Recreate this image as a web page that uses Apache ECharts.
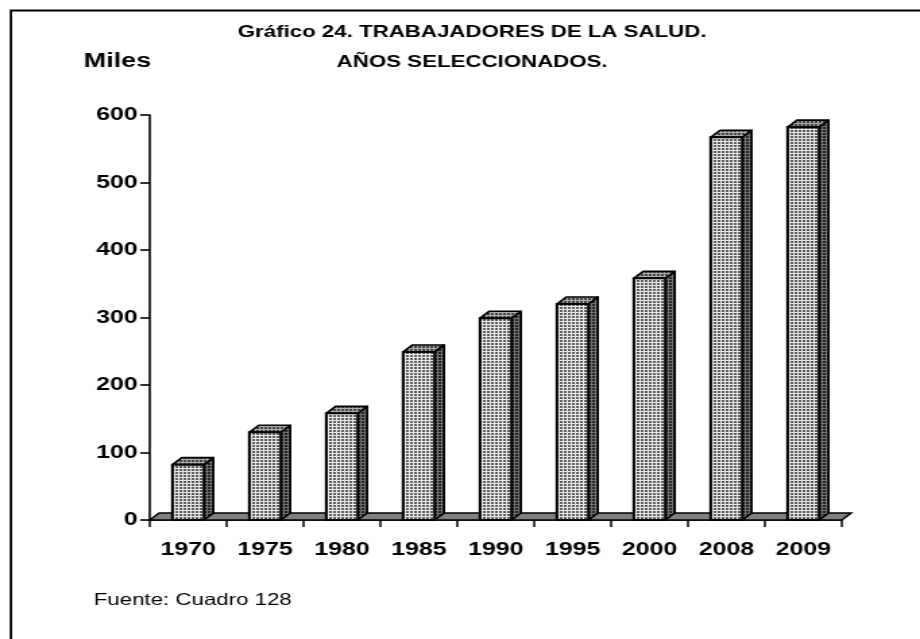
<!DOCTYPE html>
<html><head><meta charset="utf-8">
<script src="https://cdn.jsdelivr.net/npm/echarts@6/dist/echarts.min.js"></script>
<style>
html,body{margin:0;padding:0;background:#fff;overflow:hidden;width:920px;height:639px}
#c{width:682px;height:639px;transform:scaleX(1.349);transform-origin:0 0}
</style>
</head><body><div id="c"></div>
<script>
const categories = ['1970','1975','1980','1985','1990','1995','2000','2008','2009'];
const values = [82, 130, 158, 249, 299, 320, 358, 567, 582];
const yTicks = [0, 100, 200, 300, 400, 500, 600];
const titleLines = ['Gráfico 24. TRABAJADORES DE LA SALUD.', 'AÑOS SELECCIONADOS.'];
const unitLabel = 'Miles';
const sourceNote = 'Fuente: Cuadro 128';

const DX = 7, DY = 7;
function makeTile(base, line){
  const c = document.createElement('canvas'); c.width = 3; c.height = 3;
  const g = c.getContext('2d');
  g.fillStyle = line; g.fillRect(0,0,3,3);
  g.fillStyle = base; g.fillRect(1,1,2,2);
  return {image: c, repeat: 'repeat'};
}
const frontPat = makeTile('#5e5e5e', '#e6e6e6');
const topPat = makeTile('#444444', '#ababab');
const sidePat = makeTile('#222222', '#727272');

const chart = echarts.init(document.getElementById('c'), null, {renderer:'canvas', width:682, height:639});
const FONT = 'Liberation Sans, Arial, sans-serif';

function renderBar(params, api){
  const i = api.value(0), v = api.value(1);
  const top = api.coord([i, v]);
  const bot = api.coord([i, 0]);
  const band = api.size([1, 0])[0];
  const w = band * 0.41;
  const x0 = top[0] - w/2, x1 = top[0] + w/2;
  const yT = top[1], yB = bot[1];
  return {type:'group', children:[
    {type:'polygon', shape:{points:[[x1,yB],[x1+DX,yB-DY],[x1+DX,yT-DY],[x1,yT]]},
      style:{fill:sidePat, stroke:'#000', lineWidth:1.6, lineJoin:'round'}},
    {type:'polygon', shape:{points:[[x0,yT],[x0+DX,yT-DY],[x1+DX,yT-DY],[x1,yT]]},
      style:{fill:topPat, stroke:'#000', lineWidth:1.6, lineJoin:'round'}},
    {type:'rect', shape:{x:x0, y:yT, width:w, height:yB-yT},
      style:{fill:frontPat, stroke:'#000', lineWidth:2}}
  ]};
}
function renderFloor(params, api){
  const cs = params.coordSys;
  const yb = cs.y + cs.height, x = cs.x, w = cs.width;
  return {type:'polygon', shape:{points:[[x,yb],[x+DX,yb-DY],[x+w+DX,yb-DY],[x+w,yb]]},
    style:{fill:'#808080', stroke:'#000', lineWidth:1.5}};
}

chart.setOption({
  animation:false,
  backgroundColor:'#fff',
  grid:{left:111, right:58, top:115, bottom:119, containLabel:false},
  xAxis:{type:'category', data:categories,
    axisLine:{show:true, lineStyle:{color:'#000', width:1.5}},
    axisTick:{show:true, length:7, lineStyle:{color:'#000', width:1.5}},
    axisLabel:{color:'#000', fontWeight:'bold', fontSize:18.5, fontFamily:FONT, margin:20},
    splitLine:{show:false}},
  yAxis:{type:'value', min:yTicks[0], max:yTicks[yTicks.length-1], interval:yTicks[1]-yTicks[0],
    axisLine:{show:true, lineStyle:{color:'#000', width:1.6}},
    axisTick:{show:true, length:7, lineStyle:{color:'#000', width:1.6}},
    axisLabel:{color:'#000', fontWeight:'bold', fontSize:18.5, fontFamily:FONT, margin:9},
    splitLine:{show:false}},
  series:[
    {type:'custom', renderItem:renderFloor, data:[[0,0]], z:1, silent:true},
    {type:'custom', renderItem:renderBar, data:values.map((v,i)=>[i,v]), encode:{x:0,y:1}, z:2}
  ],
  graphic:[
    {type:'rect', left:5.6, top:8, shape:{x:0,y:0,width:1000,height:1000}, style:{fill:'none', stroke:'#000', lineWidth:1.8}, z:0},
    {type:'text', x:350, y:32, style:{text:titleLines[0], font:'bold 16.5px '+FONT, fill:'#000', textAlign:'center', textVerticalAlign:'middle'}},
    {type:'text', x:350, y:62, style:{text:titleLines[1], font:'bold 16.5px '+FONT, fill:'#000', textAlign:'center', textVerticalAlign:'middle'}},
    {type:'text', x:62, y:61, style:{text:unitLabel, font:'bold 20px '+FONT, fill:'#000', textAlign:'left', textVerticalAlign:'middle'}},
    {type:'text', x:69.5, y:600, style:{text:sourceNote, font:'16.5px '+FONT, fill:'#000', textAlign:'left', textVerticalAlign:'middle'}}
  ]
});
</script></body></html>
